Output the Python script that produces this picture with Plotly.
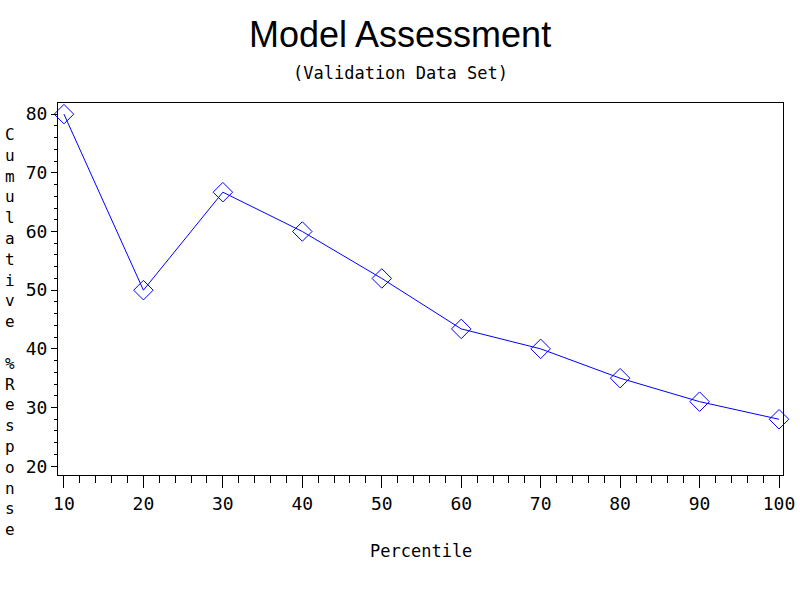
import plotly.graph_objects as go

percentile = [10, 20, 30, 40, 50, 60, 70, 80, 90, 100]
cum_response = [80.0, 50.0, 66.7, 60.0, 52.0, 43.4, 40.0, 35.0, 31.0, 28.0]
title_text = "Model Assessment"
subtitle_text = "(Validation Data Set)"
x_label = "Percentile"
y_label = "Cumulative %Response"

mono = "DejaVu Sans Mono"

fig = go.Figure()
fig.add_trace(go.Scatter(
    x=percentile, y=cum_response, mode="lines+markers",
    line=dict(color="#0000ff", width=1),
    marker=dict(symbol="diamond-open", size=15, color="#0000ff", line=dict(width=1, color="#0000ff")),
    showlegend=False, cliponaxis=False,
))

fig.update_layout(
    width=800, height=600,
    margin=dict(l=58, r=17, t=103, b=125),
    paper_bgcolor="white", plot_bgcolor="white",
    xaxis=dict(
        range=[9.25, 100.5], tickmode="linear", tick0=10, dtick=10,
        showline=True, linecolor="black", linewidth=1, mirror=True,
        ticks="outside", ticklen=12, tickcolor="black", tickwidth=1,
        showgrid=False, zeroline=False, automargin=False,
        tickfont=dict(family=mono, size=18, color="black"),
        minor=dict(tick0=10, dtick=2, ticks="outside", ticklen=7, tickcolor="black", showgrid=False),
    ),
    yaxis=dict(
        range=[18.5, 81.9], tickmode="linear", tick0=20, dtick=10,
        showline=True, linecolor="black", linewidth=1, mirror=True,
        ticks="outside", ticklen=6, tickcolor="black", tickwidth=1,
        showgrid=False, zeroline=False, automargin=False,
        tickfont=dict(family=mono, size=18, color="black"),
        minor=dict(tick0=20, dtick=2, ticks="outside", ticklen=3, tickcolor="black", showgrid=False),
    ),
)

fig.add_annotation(text=title_text, xref="paper", yref="paper", x=(400 - 58) / 725, y=(475 - 35) / 372,
                   xanchor="center", yanchor="middle", showarrow=False,
                   font=dict(family="Liberation Sans", size=36, color="black"))
fig.add_annotation(text=subtitle_text, xref="paper", yref="paper", x=(400 - 58) / 725, y=(475 - 73) / 372,
                   xanchor="center", yanchor="middle", showarrow=False,
                   font=dict(family=mono, size=17, color="black"))
fig.add_annotation(text=x_label, xref="paper", yref="paper", x=0.5, y=(475 - 551) / 372,
                   xanchor="center", yanchor="middle", showarrow=False,
                   font=dict(family=mono, size=17, color="black"))
stacked = "<br>".join(ch if ch != " " else "\u00a0" for ch in y_label)
fig.add_annotation(text=stacked, xref="paper", yref="paper", x=(10 - 58) / 725, y=(475 - 332) / 372,
                   xanchor="center", yanchor="middle", showarrow=False, align="center",
                   font=dict(family=mono, size=16, color="black"))

fig.write_html("out.html")
